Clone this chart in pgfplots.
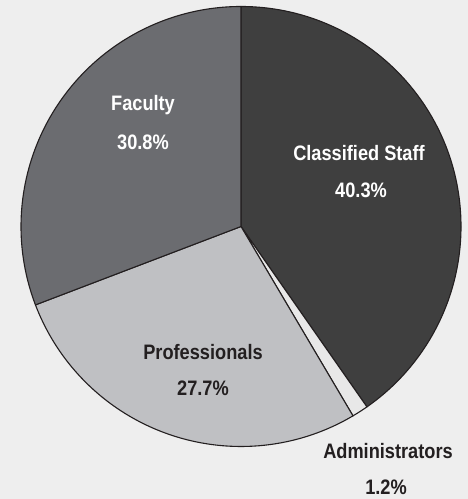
\documentclass[border=0pt]{standalone}
\usepackage{pgfplots}
\pgfplotsset{compat=1.18}
\usepackage{pgfplotstable}
\usepackage{fontspec}
\setmainfont{Liberation Sans}[FakeStretch=0.87]

\definecolor{bg}{HTML}{EEEEEE}
\definecolor{edge}{HTML}{231F20}
\definecolor{slice0}{HTML}{3F3F3F}
\definecolor{slice1}{HTML}{E8E8E8}
\definecolor{slice2}{HTML}{BFC0C3}
\definecolor{slice3}{HTML}{6B6C70}

% share of each group, clockwise from the top
\pgfplotstableread{
label pct
Classified 40.3
Administrators 1.2
Professionals 27.7
Faculty 30.8
}\piedata

\tikzset{lbl/.style={font=\fontsize{21}{25}\selectfont\bfseries, inner sep=0pt}}

\begin{document}
\begin{tikzpicture}
\begin{axis}[hide axis, scale only axis, x=1bp, y=1bp,
	xmin=0, xmax=468, ymin=0, ymax=499, clip=false]
	\fill[bg] (axis cs:0,0) rectangle (axis cs:468,499);
	\def\cum{0}
	\pgfplotsforeachungrouped \i in {0,...,3}{
		\pgfplotstablegetelem{\i}{pct}\of\piedata
		\let\p=\pgfplotsretval
		\pgfmathsetmacro\start{90-3.6*\cum}
		\pgfmathsetmacro\stop{90-3.6*(\cum+\p)}
		\edef\temp{\noexpand\filldraw[fill=slice\i, draw=edge, line width=1.1bp, line join=round]
			(axis cs:241,272.5) -- ++(\start:220bp) arc[start angle=\start, end angle=\stop, radius=220bp] -- cycle;}
		\temp
		\pgfmathsetmacro\cum{\cum+\p}
	}
	\node[lbl, white] at (axis cs:359,346) {Classified Staff};
	\node[lbl, white] at (axis cs:361,309) {40.3\%};
	\node[lbl, white] at (axis cs:143,394) {Faculty};
	\node[lbl, white] at (axis cs:143,357) {30.8\%};
	\node[lbl, edge] at (axis cs:203,147) {Professionals};
	\node[lbl, edge] at (axis cs:203,111) {27.7\%};
	\node[lbl, edge] at (axis cs:388,48) {Administrators};
	\node[lbl, edge] at (axis cs:386,11.5) {1.2\%};
\end{axis}
\end{tikzpicture}
\end{document}
